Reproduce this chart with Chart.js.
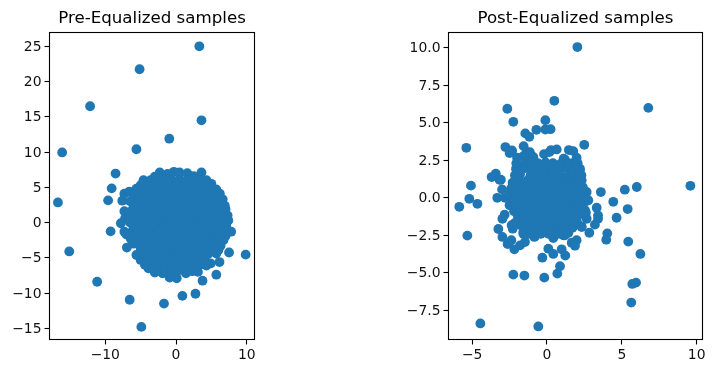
<!DOCTYPE html>
<html>
<head>
<meta charset="utf-8">
<style>
html,body{margin:0;padding:0;background:#fff;overflow:hidden;width:715px;height:374px}
canvas{position:absolute;top:0}
#pre{left:0}
#post{left:398px}
</style>
<script src="https://cdn.jsdelivr.net/npm/chart.js@4"></script>
</head>
<body>
<canvas id="pre" width="262" height="374" style="width:262px;height:374px"></canvas>
<canvas id="post" width="312" height="374" style="width:312px;height:374px"></canvas>
<script>
const titles = ["Pre-Equalized samples", "Post-Equalized samples"];
const preXTicks = [-10, 0, 10];
const preYTicks = [-15, -10, -5, 0, 5, 10, 15, 20, 25];
const postXTicks = [-5, 0, 5, 10];
const postYTicks = [-7.5, -5, -2.5, 0, 2.5, 5, 7.5, 10];
const preXRange = [-17.89, 11.1];
const preYRange = [-16.59, 26.96];
const postXRange = [-6.58, 10.39];
const postYRange = [-9.44, 11.01];

const preOutliers = [[3.3,25],[-5.15,21.75],[-12.15,16.5],[3.6,14.5],[-0.95,11.9],[-5.6,10.4],[-16.1,9.95],[-8.55,6.95],[3.6,7.1],[-9.1,4.85],[-9.6,3.15],[-16.7,2.85],[-9.25,-1.25],[-15.1,-4.1],[-6.95,-3.55],[7.5,-4.25],[9.85,-4.55],[-11.15,-8.4],[3.75,-8.25],[5.7,-7.4],[6.15,-5.6],[2.75,-10.1],[0.9,-10.4],[-1.7,-11.5],[-6.55,-10.95],[-4.9,-14.8]];

const preRim = [[-2.3,7.1],[-1.2,6.9],[-0.3,7.2],[0.5,7.1],[1.6,7],[2.5,6.6],[4.3,6],[5,5.5],[5.7,4.7],[6.2,4.1],[6.6,3.3],[6.9,2.4],[7,1.9],[7.3,1],[7.4,0.3],[7.1,-0.5],[7.8,-1.3],[7,-1.9],[6.7,-2.5],[6.3,-3.3],[6,-3.9],[5.7,-4.4],[4.9,-5.8],[4.3,-6.1],[3.1,-7],[2.3,-6.9],[1.4,-7.2],[0.1,-7.9],[-0.9,-7.8],[-1.9,-7.2],[-3,-7.1],[-3.9,-6.5],[-4.4,-6],[-5,-5.3],[-5.6,-4.6],[-6,-3],[-6.4,-2.3],[-7,-1.7],[-7.3,-1.3],[-7.8,-0.1],[-7.2,0.6],[-7.3,1.6],[-7.6,3.1],[-7.3,4.1],[-6.6,4.4],[-5.6,4.8],[-5,5.3],[-4.6,6],[-3.6,6],[-3,6.5]];

const preCore = [
[-2.5,6],[-1.5,6.1],[-0.5,6],[0.5,6.1],[1.5,6],[2.5,5.9],[3.4,6],
[-4,5.2],[-3,5.3],[-2,5.2],[-1,5.3],[0,5.2],[1,5.3],[2,5.2],[3,5.3],[4,5.2],
[-4.5,4.5],[-3.5,4.4],[-2.5,4.5],[-1.5,4.5],[-0.5,4.4],[0.5,4.5],[1.5,4.5],[2.5,4.4],[3.5,4.5],[4.5,4.5],
[-6,3.7],[-5,3.75],[-4,3.8],[-3,3.7],[-2,3.75],[-1,3.8],[0,3.7],[1,3.75],[2,3.8],[3,3.7],[4,3.75],[5,3.8],
[-6.5,3],[-5.5,3],[-4.5,3.05],[-3.5,3],[-2.5,2.95],[-1.5,3],[-0.5,3.05],[0.5,3],[1.5,2.95],[2.5,3],[3.5,3.05],[4.5,3],[5.5,3],[6.2,3],
[-6,2.25],[-5,2.2],[-4,2.3],[-3,2.25],[-2,2.2],[-1,2.3],[0,2.25],[1,2.2],[2,2.3],[3,2.25],[4,2.2],[5,2.3],[6,2.25],
[-6.5,1.5],[-5.5,1.5],[-4.5,1.45],[-3.5,1.55],[-2.5,1.5],[-1.5,1.45],[-0.5,1.55],[0.5,1.5],[1.5,1.45],[2.5,1.55],[3.5,1.5],[4.5,1.45],[5.5,1.55],[6.5,1.5],
[-6,0.75],[-5,0.7],[-4,0.8],[-3,0.75],[-2,0.7],[-1,0.8],[0,0.75],[1,0.7],[2,0.8],[3,0.75],[4,0.7],[5,0.8],[6,0.75],[6.7,0.7],
[-6.5,0],[-5.5,0.05],[-4.5,-0.05],[-3.5,0],[-2.5,0.05],[-1.5,-0.05],[-0.5,0],[0.5,0.05],[1.5,-0.05],[2.5,0],[3.5,0.05],[4.5,-0.05],[5.5,0],[6.5,0.05],
[-6,-0.75],[-5,-0.8],[-4,-0.7],[-3,-0.75],[-2,-0.8],[-1,-0.7],[0,-0.75],[1,-0.8],[2,-0.7],[3,-0.75],[4,-0.8],[5,-0.7],[6,-0.75],[6.8,-0.8],
[-6.5,-1.5],[-5.5,-1.45],[-4.5,-1.55],[-3.5,-1.5],[-2.5,-1.45],[-1.5,-1.55],[-0.5,-1.5],[0.5,-1.45],[1.5,-1.55],[2.5,-1.5],[3.5,-1.45],[4.5,-1.55],[5.5,-1.5],[6.4,-1.5],
[-5.8,-2.25],[-5,-2.2],[-4,-2.3],[-3,-2.25],[-2,-2.2],[-1,-2.3],[0,-2.25],[1,-2.2],[2,-2.3],[3,-2.25],[4,-2.2],[5,-2.3],[5.9,-2.25],
[-5.3,-3],[-4.5,-3.05],[-3.5,-3],[-2.5,-2.95],[-1.5,-3],[-0.5,-3.05],[0.5,-3],[1.5,-2.95],[2.5,-3],[3.5,-3.05],[4.5,-3],[5.4,-3],
[-5,-3.75],[-4,-3.7],[-3,-3.8],[-2,-3.75],[-1,-3.7],[0,-3.8],[1,-3.75],[2,-3.7],[3,-3.8],[4,-3.75],[5,-3.7],
[-4.5,-4.5],[-3.5,-4.55],[-2.5,-4.45],[-1.5,-4.5],[-0.5,-4.55],[0.5,-4.45],[1.5,-4.5],[2.5,-4.55],[3.5,-4.45],[4.5,-4.5],
[-4,-5.25],[-3,-5.2],[-2,-5.3],[-1,-5.25],[0,-5.2],[1,-5.3],[2,-5.25],[3,-5.2],[4,-5.3],
[-3.4,-6],[-2.5,-6],[-1.5,-6.05],[-0.5,-5.95],[0.5,-6],[1.5,-6.05],[2.5,-5.95],[3.4,-6],
[-2.6,-6.75],[-1.5,-6.7],[-0.5,-6.8],[0.5,-6.75],[1.5,-6.7],[2.5,-6.3]
];

const postOutliers = [[2.03,10.04],[0.49,6.46],[-2.65,5.93],[6.77,5.99],[-2.25,5.06],[-0.11,5.17],[-0.71,4.53],[-0.11,4.55],[0.24,4.57],[-1.45,4.29],[-1.18,4.06],[-5.39,3.33],[-2.78,3.38],[-1.56,3.44],[2.49,3.53],[-2.34,3.16],[-2.5,2.98],[0.27,3.18],[-0.2,2.91],[1.46,3.18],[1.76,3.11],[-1.37,3.05],[-1.15,2.87],[-0.92,2.7],[-1.6,2.76],[-2,2.67],[1.98,2.67],[1.11,2.6],[-3.7,1.38],[-3.42,1.6],[-3.08,1.2],[-5.08,0.81],[-3,0.56],[-2.03,1.87],[-2.09,1.38],[-1.8,1.56],[2.2,1.94],[3.6,0.38],[5.2,0.54],[6,0.72],[9.58,0.8],[-5.19,-0.07],[-4.65,-0.4],[-5.86,-0.6],[-3.32,0],[-2.8,0],[4.43,-0.27],[5.39,-0.75],[3.32,-0.66],[4.65,-1.33],[3.41,-1.17],[3.41,-1.4],[3.2,-1.79],[2.32,-1.95],[2.65,-1.4],[2.43,-1.06],[2.65,-0.22],[2.83,-2.33],[4.03,-2.37],[3.96,-2.79],[5.43,-2.92],[6.24,-3.74],[-5.32,-2.52],[-2.83,-1.13],[-2.98,-1.4],[-3.25,-2.08],[-2.98,-2.61],[-2.14,-1.68],[-1.92,-1.77],[-2.29,-2.06],[-2.38,-2.83],[-2.63,-3.08],[-2.18,-3.43],[-1.8,-3.17],[-1.47,-2.95],[-1.58,-2.39],[-0.85,-2.61],[0.09,-3.39],[0.42,-3.74],[0.98,-3.43],[1.22,-3.85],[-0.31,-3.99],[0.87,-4.56],[0.69,-5.05],[-0.18,-5.32],[-1.51,-5.18],[-2.25,-5.12],[1.98,-2.83],[1.65,-2.99],[1.87,-3.19],[1.43,-2.33],[1.09,-2.5],[0.42,-2.68],[5.7,-5.74],[5.95,-5.65],[5.63,-6.98],[-4.45,-8.37],[-0.58,-8.57]];

const postFringe = [[-2.35,3.1],[-1.14,3.04],[-0.91,2.71],[0.16,3.04],[0.65,3.22],[1.2,2.54],[2.2,1.87],[2.32,1.16],[2.65,0.39],[2.76,-0.16],[2.54,-0.83],[2.3,-1.9],[1.2,-2.5],[-0.8,-2.56],[-3.47,1.5],[-3.17,1.2],[-2.14,1.5],[-2.07,1.94],[-2.03,0.16],[-2.3,-0.1],[-1.9,-0.72],[-2.36,-1.83],[-2.03,-1.72],[-1.58,-2.28],[-2.05,2.3],[-1.7,2.1],[-1.4,2.4],[-1.05,2.35],[-1.55,1.95],[1.7,2.3],[2.05,2.3],[2.3,1.5],[-2.4,0.6],[-2.3,1],[-2.5,-0.5],[-2.2,-0.9],[-1.95,-1.2],[-1.7,-1.4],[-1.65,-1.9],[-1.2,-2.4],[-2.5,0.2],[1.7,-2],[2,-1.6],[2.6,-1]];

const postCore = [
[-0.6,2.3],[-0.1,2.35],[0.4,2.3],[0.9,2.25],[1.4,2.3],
[-1.1,1.9],[-0.6,1.95],[-0.1,1.9],[0.4,1.85],[0.9,1.9],[1.4,1.95],[1.9,1.85],
[-1.1,1.5],[-0.6,1.5],[-0.1,1.45],[0.4,1.55],[0.9,1.5],[1.4,1.45],[1.9,1.5],[2.2,1.55],
[-1.8,1.1],[-1.3,1.15],[-0.8,1.1],[-0.3,1.05],[0.2,1.1],[0.7,1.15],[1.2,1.1],[1.7,1.05],[2.2,1.1],
[-1.9,0.7],[-1.5,0.7],[-1,0.75],[-0.5,0.7],[0,0.65],[0.5,0.7],[1,0.75],[1.5,0.7],[2,0.65],[2.4,0.7],
[-2,0.3],[-1.7,0.3],[-1.2,0.35],[-0.7,0.3],[-0.2,0.25],[0.3,0.3],[0.8,0.35],[1.3,0.3],[1.8,0.25],[2.3,0.3],
[-2.2,-0.1],[-1.9,-0.1],[-1.4,-0.05],[-0.9,-0.1],[-0.4,-0.15],[0.1,-0.1],[0.6,-0.05],[1.1,-0.1],[1.6,-0.15],[2.1,-0.1],[2.5,-0.1],
[-2.1,-0.5],[-1.6,-0.5],[-1.1,-0.45],[-0.6,-0.5],[-0.1,-0.55],[0.4,-0.5],[0.9,-0.45],[1.4,-0.5],[1.9,-0.55],[2.3,-0.5],
[-1.7,-0.9],[-1.3,-0.9],[-0.8,-0.85],[-0.3,-0.9],[0.2,-0.95],[0.7,-0.9],[1.2,-0.85],[1.7,-0.9],[2.2,-0.95],
[-1.5,-1.3],[-1,-1.3],[-0.5,-1.25],[0,-1.3],[0.5,-1.35],[1,-1.3],[1.5,-1.25],[2,-1.3],
[-1.4,-1.7],[-0.9,-1.7],[-0.4,-1.65],[0.1,-1.7],[0.6,-1.75],[1.1,-1.7],[1.6,-1.65],
[-1.2,-2.1],[-0.7,-2.1],[-0.2,-2.05],[0.3,-2.1],[0.8,-2.15],[1.3,-2.1],
[-0.4,-2.4],[0.1,-2.4],[0.75,-2.4]
];

const toPoints = list => list.map(p => ({x: p[0], y: p[1]}));
const minusFmt = (v, digits) => v.toFixed(digits).replace('-', '\u2212');

const frame = {
  id: 'frame',
  afterDraw(chart) {
    const a = chart.chartArea, c = chart.ctx;
    c.save();
    c.strokeStyle = '#000';
    c.lineWidth = 1.1;
    c.strokeRect(a.left, a.top, a.right - a.left, a.bottom - a.top);
    c.restore();
  }
};

function axis(range, ticks, digits, fitKey, fitValue, labelOffset) {
  return {
    type: 'linear',
    min: range[0],
    max: range[1],
    afterBuildTicks: s => { s.ticks = ticks.map(v => ({value: v})); },
    afterFit: s => { s[fitKey] = fitValue; },
    grid: {display: true, drawOnChartArea: false, drawTicks: true, tickLength: 5, tickWidth: 1.1, tickColor: '#000'},
    border: {display: false},
    ticks: {
      autoSkip: false, maxRotation: 0, minRotation: 0, padding: 3, labelOffset,
      color: '#111',
      font: {family: "'DejaVu Sans'", size: 13.9},
      callback: v => minusFmt(v, digits)
    }
  };
}

function scatter(id, title, points, xRange, yRange, xTicks, yTicks, xDigits, yDigits, yWidth, rightPad) {
  return new Chart(document.getElementById(id), {
    type: 'scatter',
    data: {datasets: [{data: toPoints(points), pointBackgroundColor: '#1f77b4', pointBorderColor: '#1f77b4', pointBorderWidth: 0, pointRadius: 4.9, pointHoverRadius: 4.9}]},
    plugins: [frame],
    options: {
      responsive: false,
      animation: false,
      events: [],
      layout: {padding: {left: 0, right: rightPad, top: 0, bottom: 0}},
      scales: {
        x: axis(xRange, xTicks, xDigits, 'height', 34.5, 0),
        y: axis(yRange, yTicks, yDigits, 'width', yWidth, 1)
      },
      plugins: {
        legend: {display: false},
        tooltip: {enabled: false},
        title: {
          display: true, text: title, fullSize: false, color: '#000',
          font: {family: "'DejaVu Sans'", size: 16.67, weight: 'normal', lineHeight: 1.2},
          padding: {top: 8.5, bottom: 4}
        }
      }
    }
  });
}

scatter('pre', titles[0], preOutliers.concat(preRim, preCore), preXRange, preYRange, preXTicks, preYTicks, 0, 0, 49.5, 7.5);
scatter('post', titles[1], postOutliers.concat(postFringe, postCore), postXRange, postYRange, postXTicks, postYTicks, 0, 1, 50.5, 7.5);
</script>
</body>
</html>
